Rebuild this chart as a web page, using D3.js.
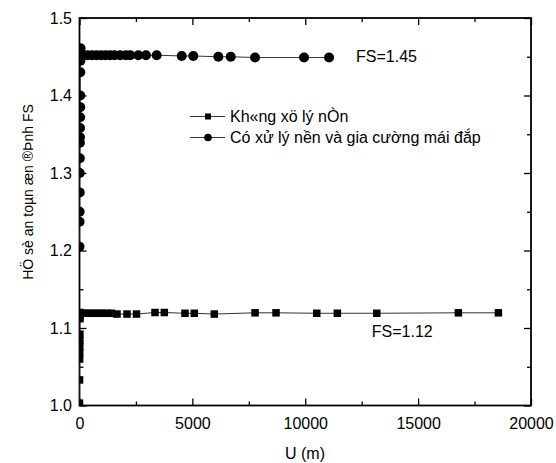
<!DOCTYPE html>
<html><head><meta charset="utf-8">
<script src="https://cdn.jsdelivr.net/npm/d3@7"></script>
<style>body{margin:0;background:#fff} text{font-family:"Liberation Sans",Arial,sans-serif;fill:#000}</style>
</head><body><svg id="c" width="556" height="463"></svg>
<script>
const xTicks=[0,5000,10000,15000,20000];
const yTicks=[1.0,1.1,1.2,1.3,1.4,1.5];
const xTitle="U (m)";
const yTitle="HÖ sè an toµn æn ®Þnh FS";
const seriesNames=["Kh«ng xö lý nÒn","Có xử lý nền và gia cường mái đắp"];
// series 1: squares (không xử lý nền)
const squareU=[0,3,6,9,12,15,18,21,24,27,30,180,330,500,680,850,1030,1220,1420,1661,2104,2525,3345,3757,4674,5086,5972,7776,8706,10510,11422,13168,16783,18556];
const squareFS=[1.003,1.033,1.06,1.068,1.076,1.084,1.092,1.112,1.116,1.12,1.119,1.119,1.119,1.119,1.119,1.119,1.119,1.119,1.119,1.118,1.118,1.118,1.120,1.120,1.119,1.119,1.118,1.1196,1.1196,1.119,1.119,1.119,1.1196,1.1196];
// series 2: circles (có xử lý nền và gia cường mái đắp)
const circleU=[0,3,6,9,12,15,18,21,24,27,30,33,36,39,42,45,48,150,350,550,750,950,1150,1350,1550,1800,2050,2250,2605,2946,3420,4528,5042,6150,6699,7776,9947,11055];
const circleFS=[1.205,1.237,1.25,1.275,1.30,1.319,1.339,1.346,1.358,1.372,1.385,1.40,1.43,1.445,1.452,1.456,1.461,1.452,1.452,1.452,1.452,1.452,1.452,1.452,1.452,1.452,1.452,1.452,1.452,1.452,1.452,1.451,1.451,1.45,1.45,1.449,1.449,1.449];
const labels=[{t:"FS=1.45",u:12250,fs:1.45},{t:"FS=1.12",u:12946,fs:1.095}];

const svg=d3.select("#c");
const L=79.5,R=531,T=18,B=405.5;
const x=d3.scaleLinear().domain([0,20000]).range([L,R]);
const y=d3.scaleLinear().domain([1.0,1.5]).range([B,T]);

svg.append("defs").append("clipPath").attr("id","clip")
  .append("rect").attr("x",L).attr("y",T).attr("width",R-L).attr("height",B-T);

const minorX=d3.range(0,20001,2500).filter(v=>v%5000!==0);
const minorY=[1.05,1.15,1.25,1.35,1.45];

function drawAxis(gen,tr,major,minor,showLabels,fmt){
  const g=svg.append("g").attr("transform",tr);
  g.call(gen.tickValues(major).tickSizeInner(-7).tickSizeOuter(0).tickFormat(showLabels?fmt:""));
  g.select(".domain").remove();
  g.selectAll(".tick line").attr("stroke","#000").attr("stroke-width",1.3);
  const m=svg.append("g").attr("transform",tr);
  m.call(gen.tickValues(minor).tickSizeInner(-4).tickSizeOuter(0).tickFormat(""));
  m.select(".domain").remove();
  m.selectAll(".tick line").attr("stroke","#000").attr("stroke-width",1.3);
  g.selectAll("text").attr("font-size",16).attr("font-family","Liberation Sans, Arial, sans-serif");
  return g;
}
const gx=drawAxis(d3.axisBottom(x),`translate(0,${B})`,xTicks,minorX,true,d3.format("d"));
gx.selectAll("text").attr("dy","1.3em");
drawAxis(d3.axisTop(x),`translate(0,${T})`,xTicks,minorX,false);
const gy=drawAxis(d3.axisLeft(y),`translate(${L},0)`,yTicks,minorY,true,d3.format(".1f"));
gy.selectAll("text").attr("x",-7.5);
drawAxis(d3.axisRight(y),`translate(${R},0)`,yTicks,minorY,false);

svg.append("rect").attr("x",L).attr("y",T).attr("width",R-L).attr("height",B-T)
  .attr("fill","none").attr("stroke","#000").attr("stroke-width",1.8);

const plot=svg.append("g").attr("clip-path","url(#clip)");
const sq=squareU.map((u,i)=>({u,f:squareFS[i]}));
const ci=circleU.map((u,i)=>({u,f:circleFS[i]}));
const line=d3.line().x(d=>x(d.u)).y(d=>y(d.f));
plot.append("path").datum(sq).attr("d",line).attr("fill","none").attr("stroke","#333").attr("stroke-width",1);
plot.append("path").datum(ci).attr("d",line).attr("fill","none").attr("stroke","#333").attr("stroke-width",1);
const s=7.5;
plot.selectAll(".sq").data(sq).enter().append("rect")
  .attr("x",d=>x(d.u)-s/2).attr("y",d=>y(d.f)-s/2).attr("width",s).attr("height",s).attr("fill","#000");
plot.selectAll(".ci").data(ci).enter().append("circle")
  .attr("cx",d=>x(d.u)).attr("cy",d=>y(d.f)).attr("r",5).attr("fill","#000");

labels.forEach(l=>{
  svg.append("text").attr("x",x(l.u)).attr("y",y(l.fs)).attr("dy","0.35em")
    .attr("font-size",16).text(l.t);
});

// legend
const lg=svg.append("g");
const rows=[116.5,137.5];
rows.forEach((ry,i)=>{
  lg.append("line").attr("x1",190).attr("x2",225).attr("y1",ry).attr("y2",ry).attr("stroke","#333").attr("stroke-width",1);
  if(i===0) lg.append("rect").attr("x",205).attr("y",ry-3).attr("width",6).attr("height",6).attr("fill","#000");
  else lg.append("circle").attr("cx",208).attr("cy",ry).attr("r",3.8).attr("fill","#000");
  lg.append("text").attr("x",230).attr("y",ry).attr("dy","0.35em").attr("font-size",16).text(seriesNames[i]);
});

svg.append("text").attr("x",305).attr("y",459).attr("text-anchor","middle").attr("font-size",16).text(xTitle);
svg.append("text").attr("transform","translate(33,192) rotate(-90)").attr("text-anchor","middle")
  .attr("font-size",14).text(yTitle);
</script></body></html>
